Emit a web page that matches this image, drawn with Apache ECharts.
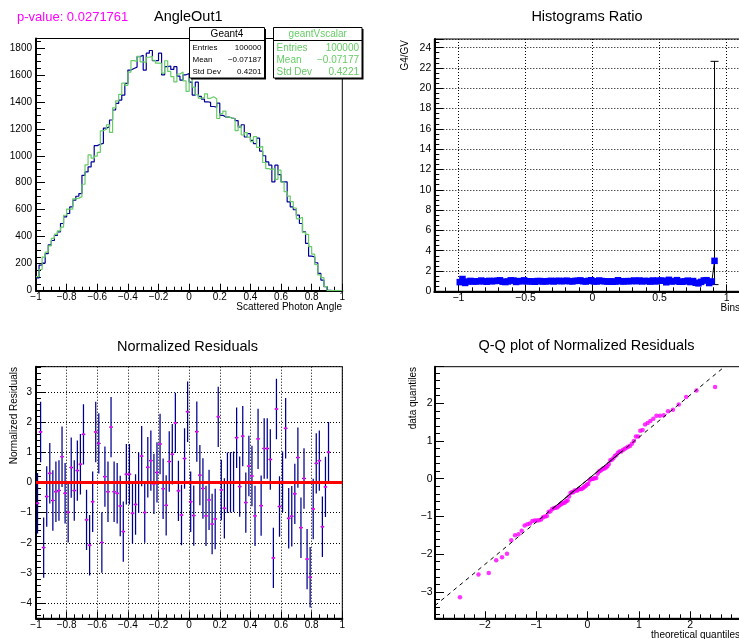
<!DOCTYPE html>
<html>
<head>
<meta charset="utf-8">
<title>AngleOut1</title>
<script src="https://cdn.jsdelivr.net/npm/echarts@6/dist/echarts.min.js"></script>
<style>
html, body { margin: 0; padding: 0; background: #fff; }
#chart { width: 739px; height: 639px; }
</style>
</head>
<body>
<div id="chart"></div>
<script>
// 100 bins on [-1, 1]
const binLow = -1;
const binWidth = 0.02;

const geant4Counts = [
    95, 190, 205, 275, 340, 372, 410, 436, 498, 547,
    572, 621, 671, 700, 720, 855, 880, 917, 954, 1075,
    1085, 1092, 1205, 1215, 1265, 1339, 1388, 1413, 1450, 1536,
    1635, 1647, 1657, 1735, 1745, 1635, 1760, 1780, 1705, 1705,
    1760, 1600, 1660, 1665, 1640, 1660, 1590, 1560, 1600, 1610,
    1545, 1450, 1545, 1440, 1420, 1400, 1395, 1365, 1360, 1390,
    1300, 1287, 1287, 1280, 1275, 1260, 1213, 1230, 1139, 1164,
    1114, 1090, 1130, 1035, 1000, 954, 930, 806, 930, 860,
    806, 806, 658, 621, 600, 560, 498, 436, 350, 256,
    251, 207, 128, 79, 30, 3, 0, 0, 0, 0,
];

const geantVCounts = [
    105, 157, 249, 286, 332, 388, 419, 444, 471, 559,
    605, 604, 681, 686, 697, 789, 932, 1006, 982, 998,
    1025, 1185, 1196, 1230, 1173, 1355, 1407, 1455, 1538, 1521,
    1620, 1705, 1699, 1736, 1696, 1692, 1730, 1737, 1708, 1686,
    1685, 1612, 1704, 1625, 1587, 1547, 1606, 1620, 1555, 1477,
    1580, 1509, 1452, 1427, 1431, 1459, 1426, 1437, 1423, 1276,
    1313, 1331, 1287, 1280, 1274, 1186, 1220, 1154, 1171, 1138,
    1104, 1142, 1062, 1070, 950, 905, 897, 906, 825, 893,
    805, 734, 701, 660, 613, 533, 545, 432, 417, 327,
    271, 194, 117, 97, 31, 1, 0, 0, 0, 0,
];

// normalized residual per filled bin (bins 0..95)
const residuals = [
    -0.69, 1.67, -2.16, -0.47, 0.30, -0.60, -0.31, -0.27, 0.85, -0.36,
    -0.99, 0.49, -0.27, 0.39, 0.60, 1.59, -1.24, -2.08, -0.64, 1.67,
    1.29, -1.99, 0.19, -0.31, 1.83, -0.31, -0.36, -0.78, -1.63, 0.27,
    0.27, -1.02, -0.73, -0.01, 0.87, -1.00, 0.50, 0.72, -0.05, 0.33,
    1.27, -0.21, -0.76, 0.69, 0.93, 1.97, -0.28, -1.08, 0.79, 2.34,
    -0.64, -1.10, 1.68, 0.24, -0.20, -1.11, -0.58, -1.38, -1.21, 2.17,
    -0.25, -0.86, -0.01, 0.00, 0.02, 1.48, -0.14, 1.53, -0.67, 0.54,
    0.21, -1.11, 1.44, -0.77, 1.12, 1.12, 0.76, -2.50, 2.43, -0.80,
    0.02, 1.79, -1.19, -1.12, -0.38, 0.82, -1.50, 0.13, -2.54, -3.14,
    -0.88, 0.63, 0.72, -1.47, -0.15, 1.00,
];
const residualErr = 1;

// the only visible ratio error bar (last filled bin)
const lastRatioErrLow = 0.66;
const lastRatioErrHigh = 22.65;

const pValue = "0.0271761";
const geant4Stats = [["Entries", "100000"], ["Mean", "\u22120.07187"], ["Std Dev", "0.4201"]];
const geantVStats = [["Entries", "100000"], ["Mean", "\u22120.07177"], ["Std Dev", "0.4221"]];

const blue = "#000099";
const green = "#66cc66";
const font = '"Liberation Sans", Arial, Helvetica, sans-serif';

const center = (i) => binLow + (i + 0.5) * binWidth;

function histSteps(counts) {
    const pts = counts.map((c, i) => [binLow + i * binWidth, c]);
    pts.push([binLow + counts.length * binWidth, counts[counts.length - 1]]);
    return pts;
}

const ratioData = [];
geant4Counts.forEach((c, i) => {
    if (c > 0 && geantVCounts[i] > 0) ratioData.push([center(i), c / geantVCounts[i]]);
});
const lastRatioX = ratioData[ratioData.length - 1][0];

const residualData = residuals.map((r, i) => [center(i), r]);

function normQuantile(p) {
    const a = [-39.69683028665376, 220.9460984245205, -275.9285104469687, 138.357751867269, -30.66479806614716, 2.506628277459239];
    const b = [-54.47609879822406, 161.5858368580409, -155.6989798598866, 66.80131188771972, -13.28068155288572];
    const c = [-0.007784894002430293, -0.3223964580411365, -2.400758277161838, -2.549732539343734, 4.374664141464968, 2.938163982698783];
    const d = [0.007784695709041462, 0.3224671290700398, 2.445134137142996, 3.754408661907416];
    const tail = (q) => (((((c[0] * q + c[1]) * q + c[2]) * q + c[3]) * q + c[4]) * q + c[5]) /
        ((((d[0] * q + d[1]) * q + d[2]) * q + d[3]) * q + 1);
    if (p < 0.02425) return tail(Math.sqrt(-2 * Math.log(p)));
    if (p > 1 - 0.02425) return -tail(Math.sqrt(-2 * Math.log(1 - p)));
    const q = p - 0.5, r = q * q;
    return (((((a[0] * r + a[1]) * r + a[2]) * r + a[3]) * r + a[4]) * r + a[5]) * q /
        (((((b[0] * r + b[1]) * r + b[2]) * r + b[3]) * r + b[4]) * r + 1);
}

// Q-Q points: sorted residuals against normal quantiles
const sortedRes = residuals.slice().sort((x, y) => x - y);
const n = sortedRes.length;
const qqData = sortedRes.map((v, k) => [normQuantile((k + 0.625) / (n + 0.25)), v]);
function quantile(arr, p) {
    const h = (arr.length - 1) * p, lo = Math.floor(h);
    return arr[lo] + (h - lo) * (arr[Math.min(lo + 1, arr.length - 1)] - arr[lo]);
}
const qx1 = normQuantile(0.25), qx3 = normQuantile(0.75);
const qy1 = quantile(sortedRes, 0.25), qy3 = quantile(sortedRes, 0.75);
const qSlope = (qy3 - qy1) / (qx3 - qx1);
const qqRange = [-2.97, 2.97];
const qqLine = qqRange.map((x) => [x, qy1 + (x - qx1) * qSlope]);
const qqSolid = [[qx1, qy1], [qx3, qy3]];

const fmt = (v) => String(Math.round(v * 1e6) / 1e6).replace("-", "\u2212");

function axis(gridIndex, cfg) {
    return {
        type: "value",
        gridIndex: gridIndex,
        min: cfg.min,
        max: cfg.max,
        interval: cfg.interval,
        splitNumber: cfg.splitNumber,
        position: cfg.position,
        axisLine: { show: true, onZero: false, lineStyle: { color: "#000", width: 2 } },
        axisTick: { show: true, inside: true, length: cfg.tick, lineStyle: { color: "#000", width: 1 } },
        minorTick: { show: true, splitNumber: cfg.minor, length: cfg.minorLen, lineStyle: { color: "#000", width: 1 } },
        axisLabel: {
            show: true,
            color: "#000",
            fontFamily: font,
            fontSize: cfg.fontSize || 10,
            margin: cfg.margin,
            formatter: fmt,
            showMinLabel: cfg.showMin,
            showMaxLabel: cfg.showMax,
        },
        splitLine: { show: !!cfg.grid, lineStyle: { color: "#000", width: 1, type: [1, 2] } },
        minorSplitLine: { show: false },
    };
}

function text(x, y, str, opts) {
    opts = opts || {};
    return {
        type: "text",
        x: x,
        y: y,
        rotation: opts.rotation || 0,
        z: 110,
        silent: true,
        style: {
            text: str,
            fill: opts.color || "#000",
            font: (opts.size || 10) + "px " + font,
            align: opts.align || "left",
            textAlign: opts.align || "left",
            verticalAlign: "middle",
            textVerticalAlign: "middle",
        },
    };
}

function statBox(x, y, w, h, title, rows, color, rowSize) {
    const els = [
        { type: "rect", z: 99, silent: true, shape: { x: x + 1.5, y: y + 1.5, width: w, height: h }, style: { fill: "#000" } },
        { type: "rect", z: 100, silent: true, shape: { x: x, y: y, width: w, height: h }, style: { fill: "#fff", stroke: "#000", lineWidth: 1 } },
        { type: "line", z: 101, silent: true, shape: { x1: x, y1: y + 13, x2: x + w, y2: y + 13 }, style: { stroke: "#000", lineWidth: 1 } },
        text(x + w / 2, y + 6.8, title, { color: color, size: 10, align: "center" }),
    ];
    rows.forEach((r, i) => {
        const ry = y + 20.5 + i * 12;
        els.push(text(x + 3, ry, r[0], { color: color, size: rowSize }));
        els.push(text(x + w - 3, ry, r[1], { color: color, size: rowSize, align: "right" }));
    });
    return els;
}

const chart = echarts.init(document.getElementById("chart"));

const gridBase = { show: true, borderColor: "#000", borderWidth: 1, backgroundColor: "transparent", outerBoundsMode: "none", containLabel: false };

const option = {
    animation: false,
    backgroundColor: "#fff",
    grid: [
        Object.assign({ left: 36, top: 38.5, right: 396.7, bottom: 348.3 }, gridBase),
        Object.assign({ left: 434.3, top: 39, right: -1, bottom: 347.7 }, gridBase),
        Object.assign({ left: 36, top: 366.7, right: 396.7, bottom: 20.7 }, gridBase),
        Object.assign({ left: 435, top: 366.7, right: -1, bottom: 20.7 }, gridBase),
    ],
    xAxis: [
        axis(0, { min: -1, max: 1, interval: 0.2, minor: 4, tick: 7, minorLen: 4, margin: 2, position: "bottom", showMin: true, showMax: true }),
        axis(1, { min: -1.18, max: 1.1, splitNumber: 5, minor: 5, tick: 7, minorLen: 4, margin: 1, fontSize: 10.5, position: "bottom", showMin: false, showMax: false, grid: true }),
        axis(2, { min: -1, max: 1, interval: 0.2, minor: 4, tick: 7, minorLen: 4, margin: 2, position: "bottom", showMin: true, showMax: true, grid: true }),
        axis(3, { min: qqRange[0], max: qqRange[1], splitNumber: 6, minor: 5, tick: 7, minorLen: 4, margin: 1, fontSize: 10.5, position: "bottom", showMin: false, showMax: false }),
    ],
    yAxis: [
        axis(0, { min: 0, max: 1869, interval: 200, minor: 4, tick: 9, minorLen: 5, margin: 4, position: "left", showMin: true, showMax: false }),
        axis(1, { min: 0, max: 24.85, interval: 2, minor: 4, tick: 9, minorLen: 5, margin: 3, fontSize: 10.5, position: "left", showMin: true, showMax: false, grid: true }),
        axis(2, { min: -4.5, max: 3.83, splitNumber: 8, minor: 5, tick: 10, minorLen: 5, margin: 4, position: "left", showMin: false, showMax: false, grid: true }),
        axis(3, { min: -3.7, max: 2.97, splitNumber: 7, minor: 5, tick: 9, minorLen: 5, margin: 2.5, fontSize: 10.5, position: "left", showMin: false, showMax: false }),
    ],
    series: [
        {
            name: "Geant4",
            type: "line",
            xAxisIndex: 0,
            yAxisIndex: 0,
            step: "end",
            data: histSteps(geant4Counts),
            symbol: "none",
            silent: true,
            lineStyle: { color: blue, width: 1.2 },
        },
        {
            name: "geantVscalar",
            type: "line",
            xAxisIndex: 0,
            yAxisIndex: 0,
            step: "end",
            data: histSteps(geantVCounts),
            symbol: "none",
            silent: true,
            lineStyle: { color: green, width: 1.2 },
        },
        {
            type: "custom",
            xAxisIndex: 1,
            yAxisIndex: 1,
            silent: true,
            data: [[lastRatioX, lastRatioErrLow, lastRatioErrHigh]],
            renderItem(params, api) {
                const lo = api.coord([api.value(0), api.value(1)]);
                const hi = api.coord([api.value(0), api.value(2)]);
                const s = { stroke: "#000", lineWidth: 1 };
                return {
                    type: "group",
                    children: [
                        { type: "line", shape: { x1: lo[0], y1: lo[1], x2: hi[0], y2: hi[1] }, style: s },
                        { type: "line", shape: { x1: lo[0] - 4, y1: lo[1], x2: lo[0] + 4, y2: lo[1] }, style: s },
                        { type: "line", shape: { x1: hi[0] - 4, y1: hi[1], x2: hi[0] + 4, y2: hi[1] }, style: s },
                    ],
                };
            },
        },
        {
            name: "G4/GV",
            type: "line",
            xAxisIndex: 1,
            yAxisIndex: 1,
            data: ratioData,
            silent: true,
            symbol: "rect",
            symbolSize: 6.5,
            showSymbol: true,
            showAllSymbol: true,
            itemStyle: { color: "#0000ff" },
            lineStyle: { color: "#000", width: 1 },
        },
        {
            name: "Normalized Residuals",
            type: "custom",
            xAxisIndex: 2,
            yAxisIndex: 2,
            silent: true,
            clip: true,
            data: residualData,
            renderItem(params, api) {
                const x = api.value(0), y = api.value(1);
                const top = api.coord([x, y + residualErr]);
                const bot = api.coord([x, y - residualErr]);
                const l = api.coord([x - binWidth * 0.6, y]);
                const r = api.coord([x + binWidth * 0.6, y]);
                const c = api.coord([x, y]);
                return {
                    type: "group",
                    children: [
                        { type: "line", shape: { x1: top[0], y1: top[1], x2: bot[0], y2: bot[1] }, style: { stroke: "#000090", lineWidth: 1.25 } },
                        { type: "line", shape: { x1: l[0], y1: l[1], x2: r[0], y2: r[1] }, style: { stroke: "#000090", lineWidth: 1 } },
                        { type: "rect", shape: { x: c[0] - 1.2, y: c[1] - 1, width: 2.4, height: 2 }, style: { fill: "#ff00ff" } },
                    ],
                };
            },
            markLine: {
                silent: true,
                symbol: "none",
                label: { show: false },
                lineStyle: { color: "#ff0000", width: 3, type: "solid" },
                data: [{ yAxis: 0 }],
            },
        },
        {
            type: "line",
            xAxisIndex: 3,
            yAxisIndex: 3,
            data: qqLine,
            symbol: "none",
            silent: true,
            clip: true,
            lineStyle: { color: "#000", width: 1, type: [4, 4] },
        },
        {
            type: "line",
            xAxisIndex: 3,
            yAxisIndex: 3,
            data: qqSolid,
            symbol: "none",
            silent: true,
            lineStyle: { color: "#000", width: 1 },
        },
        {
            name: "Q-Q",
            type: "scatter",
            xAxisIndex: 3,
            yAxisIndex: 3,
            data: qqData,
            silent: true,
            symbol: "circle",
            symbolSize: 4.5,
            itemStyle: { color: "#ff00ff" },
        },
    ],
    graphic: [
        text(17, 17, "p-value: " + pValue, { color: "#ff00ff", size: 13 }),
        text(154, 17, "AngleOut1", { size: 14.5 }),
        text(587, 17, "Histograms Ratio", { size: 14.5, align: "center" }),
        text(187.5, 346.7, "Normalized Residuals", { size: 14.5, align: "center" }),
        text(586.5, 346, "Q-Q plot of Normalized Residuals", { size: 14.5, align: "center" }),
        text(342, 307, "Scattered Photon Angle", { align: "right" }),
        text(740, 308, "Bins", { align: "right" }),
        text(740, 635, "theoretical quantiles", { align: "right" }),
        text(405, 40, "G4/GV", { align: "right", rotation: Math.PI / 2 }),
        text(14, 367, "Normalized Residuals", { align: "right", rotation: Math.PI / 2 }),
        text(413, 367, "data quantiles", { align: "right", rotation: Math.PI / 2 }),
    ]
        .concat(statBox(189.5, 27.5, 75, 50.5, "Geant4", geant4Stats, "#000", 8))
        .concat(statBox(273.5, 27.5, 88.5, 50.5, "geantVscalar", geantVStats, green, 10)),
};

chart.setOption(option);
</script>
</body>
</html>
